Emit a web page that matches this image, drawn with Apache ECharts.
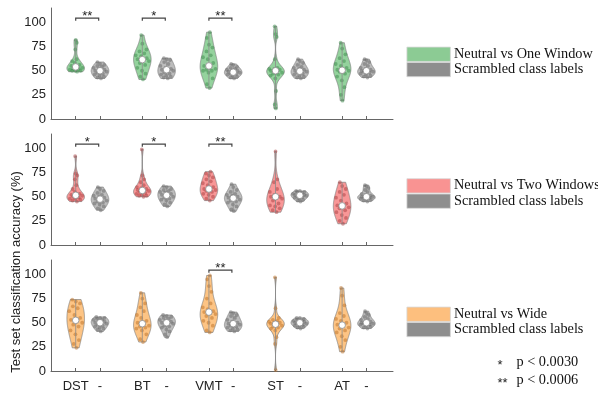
<!DOCTYPE html>
<html>
<head>
<meta charset="utf-8">
<script src="https://cdn.jsdelivr.net/npm/echarts@6/dist/echarts.min.js"></script>
<style>
html, body { margin: 0; padding: 0; background: #fff; }
#main { width: 598px; height: 399px; }
</style>
</head>
<body>
<div id="main"></div>
<script>
// categories and tick labels
var groups = ['DST', 'BT', 'VMT', 'ST', 'AT'];
var tickLabels = ['DST', '-', 'BT', '-', 'VMT', '-', 'ST', '-', 'AT', '-'];
var yTicks = [0, 25, 50, 75, 100];

// Neutral vs One Window (one array per group) + scrambled labels
var oneWindow = [
    [49, 50, 50, 50, 51, 52, 52, 53, 54, 55, 56, 58, 60, 62, 72, 79, 82],
    [41, 44, 47, 50, 53, 56, 58, 60, 61, 62, 63, 65, 66, 68, 70, 72, 78, 87],
    [32, 36, 42, 48, 50, 50, 51, 52, 53, 55, 58, 62, 64, 66, 70, 74, 77, 84, 90],
    [11, 15, 29, 42, 45, 46, 47, 48, 50, 50, 51, 52, 52, 53, 62, 85, 88, 96],
    [19, 25, 33, 40, 44, 47, 49, 50, 50, 51, 53, 55, 57, 60, 63, 67, 73, 79]
];
var oneWindowScrambled = [
    [42, 43, 44, 45, 46, 47, 48, 49, 50, 50, 51, 52, 53, 54, 55, 56, 57, 59],
    [42, 43, 44, 45, 46, 47, 48, 50, 51, 51, 52, 53, 55, 57, 59, 61, 62, 63],
    [42, 43, 44, 45, 46, 47, 47, 48, 48, 49, 50, 50, 51, 52, 53, 54, 56, 57],
    [42, 43, 44, 45, 46, 47, 48, 49, 49, 50, 51, 52, 53, 54, 56, 58, 60, 62],
    [43, 44, 45, 46, 47, 48, 49, 49, 50, 50, 51, 52, 53, 55, 57, 59, 61, 62]
];

// Neutral vs Two Windows
var twoWindows = [
    [45, 46, 47, 48, 48, 49, 50, 51, 51, 52, 53, 55, 58, 62, 68, 72, 74, 92],
    [50, 51, 51, 52, 53, 54, 55, 56, 56, 57, 58, 59, 60, 62, 65, 68, 72, 99],
    [46, 48, 50, 52, 53, 55, 56, 57, 57, 58, 60, 62, 64, 66, 68, 70, 72, 74, 76],
    [34, 36, 38, 40, 41, 43, 46, 48, 50, 50, 50, 52, 55, 58, 65, 68, 97],
    [22, 25, 28, 31, 34, 36, 38, 39, 40, 41, 43, 46, 49, 52, 55, 58, 61, 65]
];
var twoWindowsScrambled = [
    [36, 38, 40, 42, 43, 44, 45, 46, 47, 48, 49, 50, 51, 52, 54, 56, 58, 60],
    [40, 42, 44, 46, 47, 48, 49, 50, 51, 52, 53, 54, 55, 56, 57, 58, 60, 61],
    [35, 37, 40, 42, 44, 45, 46, 47, 48, 49, 50, 51, 52, 53, 55, 57, 60, 63],
    [45, 46, 47, 48, 49, 50, 50, 51, 51, 52, 52, 53, 53, 54, 55, 55, 56, 56],
    [45, 46, 47, 48, 48, 49, 49, 50, 50, 50, 51, 52, 53, 55, 57, 59, 61, 62]
];

// Neutral vs Wide
var wide = [
    [24, 28, 32, 38, 42, 46, 48, 50, 52, 53, 55, 58, 62, 65, 67, 70, 72, 74],
    [30, 33, 38, 42, 44, 45, 46, 47, 48, 50, 52, 55, 58, 62, 66, 70, 75, 81],
    [40, 42, 47, 50, 52, 55, 57, 59, 60, 61, 62, 64, 66, 70, 75, 82, 88, 95, 99],
    [1, 28, 35, 42, 44, 45, 46, 47, 48, 49, 50, 50, 51, 52, 53, 55, 65, 97],
    [20, 25, 32, 36, 40, 42, 44, 45, 47, 48, 50, 52, 54, 57, 60, 68, 78, 86]
];
var wideScrambled = [
    [41, 43, 44, 45, 46, 47, 48, 49, 50, 50, 51, 52, 53, 53, 54, 55, 55, 56],
    [35, 38, 41, 43, 45, 46, 47, 49, 50, 50, 51, 52, 53, 54, 55, 56, 57, 58],
    [41, 42, 43, 44, 45, 46, 47, 48, 49, 49, 50, 51, 53, 55, 57, 58, 60, 61],
    [44, 45, 46, 47, 47, 48, 49, 49, 50, 50, 51, 51, 52, 52, 53, 54, 55, 55],
    [44, 45, 46, 47, 48, 48, 49, 49, 50, 50, 51, 52, 53, 54, 56, 58, 60, 62]
];

// significance stars per group
var starsOne = ['**', '*', '**', '', ''];
var starsTwo = ['*', '*', '**', '', ''];
var starsWide = ['', '', '**', '', ''];
var bracketLevel = 104.5;
var pNotes = [['*', 'p < 0.0030'], ['**', 'p < 0.0006']];

var sansFont = '"Liberation Sans", Arial, sans-serif';
var serifFont = '"Liberation Serif", "Times New Roman", serif';

var panels = [
    {top: 8, data: oneWindow, shuffled: oneWindowScrambled, stars: starsOne,
     fill: '#94d29d', dot: '#3c8a4b', key: '#8ccb94', name: 'Neutral vs One Window', keyTop: 46.7},
    {top: 134, data: twoWindows, shuffled: twoWindowsScrambled, stars: starsTwo,
     fill: '#f89797', dot: '#a83d3f', key: '#f99392', name: 'Neutral vs Two Windows', keyTop: 178.3},
    {top: 260, data: wide, shuffled: wideScrambled, stars: starsWide,
     fill: '#fdc484', dot: '#bb6f25', key: '#fdbf7e', name: 'Neutral vs Wide', keyTop: 306.7}
];
var grayFill = '#bcbcbc', grayDot = '#666666', grayKey = '#8e8e8e';
var pairGap = 0.365;

var positions = [];
groups.forEach(function (g, i) { positions.push(i + 1, i + 1 + pairGap); });

function median(s) {
    var a = s.slice().sort(function (p, q) { return p - q; });
    var m = Math.floor(a.length / 2);
    return a.length % 2 ? a[m] : (a[m - 1] + a[m]) / 2;
}

// kernel density, bandwidth from the MAD rule (slightly widened)
function makeKde(vals) {
    var n = vals.length, med = median(vals);
    var mad = median(vals.map(function (v) { return Math.abs(v - med); }));
    var h = 1.25 * (mad / 0.6745) * Math.pow(4 / (3 * n), 0.2);
    if (h <= 0) h = 1;
    return function (y) {
        var s = 0;
        for (var i = 0; i < n; i++) { var u = (y - vals[i]) / h; s += Math.exp(-0.5 * u * u); }
        return s;
    };
}

function violinRender(panel) {
    return function (params, api) {
        var k = params.dataIndex, g = Math.floor(k / 2), scr = k % 2 === 1;
        var vals = scr ? panel.shuffled[g] : panel.data[g];
        var fill = scr ? grayFill : panel.fill, dot = scr ? grayDot : panel.dot;
        var xv = api.value(0);
        var lo = Math.min.apply(null, vals), hi = Math.max.apply(null, vals);
        var f = makeKde(vals), steps = 90, ys = [], ds = [], dmax = 0;
        for (var i = 0; i <= steps; i++) {
            var y = lo + (hi - lo) * i / steps, d = f(y);
            ys.push(y); ds.push(d); if (d > dmax) dmax = d;
        }
        var halfW = 8.8;
        var cx = api.coord([xv, lo])[0];
        var left = [], right = [];
        for (i = 0; i <= steps; i++) {
            var py = api.coord([xv, ys[i]])[1], w = halfW * ds[i] / dmax;
            left.push([cx - w, py]); right.unshift([cx + w, py]);
        }
        var children = [{
            type: 'polygon', shape: {points: left.concat(right)},
            style: {fill: fill, stroke: '#808080', lineWidth: 0.7}
        }];
        vals.forEach(function (v, j) {
            var jit = (((j + 1) * 0.618034) % 1) * 2 - 1;
            var w = halfW * f(v) / dmax * 0.85;
            children.push({
                type: 'circle', shape: {cx: cx + jit * w, cy: api.coord([xv, v])[1], r: 1.9},
                style: {fill: dot, opacity: 0.5}
            });
        });
        children.push({
            type: 'line',
            shape: {x1: cx, y1: api.coord([xv, lo])[1], x2: cx, y2: api.coord([xv, hi])[1]},
            style: {stroke: '#8a8a8a', lineWidth: 0.8}
        });
        children.push({
            type: 'circle', shape: {cx: cx, cy: api.coord([xv, median(vals)])[1], r: 3.3},
            style: {fill: '#fff', stroke: '#8a8a8a', lineWidth: 0.8}
        });
        return {type: 'group', children: children};
    };
}

function bracketRender(marks) {
    return function (params, api) {
        var p1 = api.coord([api.value(0), api.value(2)]);
        var p2 = api.coord([api.value(1), api.value(2)]);
        return {
            type: 'group',
            children: [{
                type: 'polyline',
                shape: {points: [[p1[0], p1[1] + 2.5], p1, p2, [p2[0], p2[1] + 2.5]]},
                style: {stroke: '#444', lineWidth: 1.2, fill: null}
            }, {
                type: 'text',
                x: (p1[0] + p2[0]) / 2, y: p1[1] - 1.5,
                style: {text: marks[params.dataIndex], font: '13px ' + sansFont, fill: '#222',
                        align: 'center', verticalAlign: 'middle',
                        textAlign: 'center', textVerticalAlign: 'middle'}
            }]
        };
    };
}

var grids = [], xAxes = [], yAxes = [], series = [], graphics = [];
panels.forEach(function (p, pi) {
    grids.push({left: 51, width: 342, top: p.top, height: 111});
    xAxes.push({
        type: 'value', gridIndex: pi, min: 0.629, max: 5.764,
        axisLine: {onZero: false, lineStyle: {color: '#666', width: 1}},
        axisTick: {show: true, inside: true, length: 3, customValues: positions,
                   lineStyle: {color: '#666'}},
        axisLabel: {show: pi === 2, customValues: positions, margin: 9,
                    fontSize: 13, fontFamily: sansFont, color: '#222',
                    formatter: function (v) {
                        var best = 0;
                        positions.forEach(function (q, i) {
                            if (Math.abs(q - v) < Math.abs(positions[best] - v)) best = i;
                        });
                        return tickLabels[best];
                    }},
        splitLine: {show: false}
    });
    yAxes.push({
        type: 'value', gridIndex: pi, min: 0, max: 115,
        axisLine: {show: true, lineStyle: {color: '#666', width: 1}},
        axisTick: {show: false},
        axisLabel: {customValues: yTicks, margin: 5, fontSize: 13,
                    fontFamily: sansFont, color: '#222'},
        splitLine: {show: false}
    });
    var vData = positions.map(function (x, k) {
        var g = Math.floor(k / 2);
        return [x, median(k % 2 ? p.shuffled[g] : p.data[g])];
    });
    series.push({
        type: 'custom', xAxisIndex: pi, yAxisIndex: pi, clip: false,
        renderItem: violinRender(p), data: vData,
        encode: {x: 0, y: 1}, silent: true
    });
    var bData = [], marks = [];
    p.stars.forEach(function (s, g) {
        if (s) { bData.push([g + 1, g + 1 + 0.345, bracketLevel]); marks.push(s); }
    });
    series.push({
        type: 'custom', xAxisIndex: pi, yAxisIndex: pi, clip: false,
        renderItem: bracketRender(marks), data: bData,
        encode: {x: [0, 1], y: 2}, silent: true
    });

    // legend keys
    [[p.key, p.name], [grayKey, 'Scrambled class labels']].forEach(function (e, ei) {
        var top = p.keyTop + ei * 15.3;
        graphics.push({
            type: 'rect', left: 406.5, top: top,
            shape: {width: 43.5, height: 14.3},
            style: {fill: e[0], stroke: '#d8d8d8', lineWidth: 0.8}
        });
        graphics.push({
            type: 'text', x: 454, y: top + 7.4,
            style: {text: e[1], font: '14.3px ' + serifFont, fill: '#111',
                    align: 'left', verticalAlign: 'middle',
                    textAlign: 'left', textVerticalAlign: 'middle'}
        });
    });
});

pNotes.forEach(function (n, i) {
    var y = 362 + i * 18.5;
    graphics.push({
        type: 'text', x: 497.5, y: y + 3,
        style: {text: n[0], font: '13px ' + sansFont, fill: '#222',
                align: 'left', verticalAlign: 'middle',
                textAlign: 'left', textVerticalAlign: 'middle'}
    });
    graphics.push({
        type: 'text', x: 516.5, y: y,
        style: {text: n[1], font: '14.3px ' + serifFont, fill: '#111',
                align: 'left', verticalAlign: 'middle',
                textAlign: 'left', textVerticalAlign: 'middle'}
    });
});

graphics.push({
    type: 'text', x: 16, y: 272, rotation: Math.PI / 2,
    style: {text: 'Test set classification accuracy (%)', font: '13px ' + sansFont,
            fill: '#222', align: 'center', verticalAlign: 'middle',
            textAlign: 'center', textVerticalAlign: 'middle'}
});

var chart = echarts.init(document.getElementById('main'));
var option = {
    animation: false,
    backgroundColor: '#fff',
    grid: grids,
    xAxis: xAxes,
    yAxis: yAxes,
    series: series,
    graphic: graphics
};
chart.setOption(option);
</script>
</body>
</html>
